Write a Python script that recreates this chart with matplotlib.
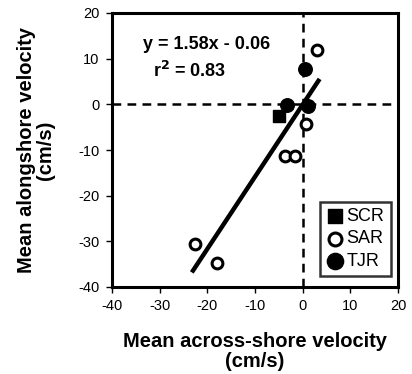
import numpy as np
import matplotlib.pyplot as plt

plt.rcParams['font.family'] = ['Liberation Sans', 'DejaVu Sans']
plt.rcParams['axes.unicode_minus'] = False

# -- Data
scr_x = [-5.0]
scr_y = [-2.6]
sar_x = [3.0, -22.5, -18.0, -3.8, -1.6, 0.8]
sar_y = [12.0, -30.5, -34.7, -11.3, -11.3, -4.3]
tjr_x = [0.4, -3.3, 1.2]
tjr_y = [7.8, -0.2, -0.4]

# -- Regression line
slope, intercept = 1.58, -0.06
fit_x = np.array([-23.0, 3.3])

fig = plt.figure(figsize=(4.12, 3.74), dpi=100)
ax = fig.add_axes([112 / 412, 1 - 287 / 374, 286 / 412, 274 / 374])

ax.axhline(0, color='black', linestyle=(0, (3.5, 2.5)), linewidth=1.8, zorder=1)
ax.axvline(0, color='black', linestyle=(0, (3.5, 2.5)), linewidth=1.8, zorder=1)

ax.plot(fit_x, slope * fit_x + intercept, color='black', linewidth=3.2, zorder=2)

ax.scatter(scr_x, scr_y, marker='s', s=80, color='black', label='SCR', zorder=3)
ax.scatter(sar_x, sar_y, marker='o', s=60, facecolor='white', edgecolor='black',
           linewidth=2.2, label='SAR', zorder=3)
ax.scatter(tjr_x, tjr_y, marker='o', s=95, color='black', label='TJR', zorder=3)

ax.set_xlim(-40, 20)
ax.set_ylim(-40, 20)
ax.set_xticks(np.arange(-40, 21, 10))
ax.set_yticks(np.arange(-40, 21, 10))
ax.tick_params(direction='out', length=4, width=1, labelsize=10.5, pad=5)
for s in ax.spines.values():
    s.set_linewidth(2.2)

ax.text(-33.5, 13, 'y = 1.58x - 0.06', fontsize=13, fontweight='bold', va='center')
ax.text(-31.5, 7.3, r'r$^{\mathbf{2}}$ = 0.83', fontsize=13, fontweight='bold', va='center')

ax.set_xlabel('Mean across-shore velocity\n(cm/s)', fontsize=14.5, fontweight='bold',
              labelpad=13, linespacing=1.1)
ax.set_ylabel('Mean alongshore velocity\n(cm/s)', fontsize=14.5, fontweight='bold',
              labelpad=17, linespacing=1.0)

leg = ax.legend(loc='lower right', frameon=True, fancybox=False, edgecolor='black',
                fontsize=13, handletextpad=0.2, handlelength=0.9, borderpad=0.35,
                labelspacing=0.3, borderaxespad=0, bbox_to_anchor=(0.975, 0.04),
                markerscale=1.2)
leg.get_frame().set_linewidth(1.8)

fig.savefig('out.png', dpi=100)
